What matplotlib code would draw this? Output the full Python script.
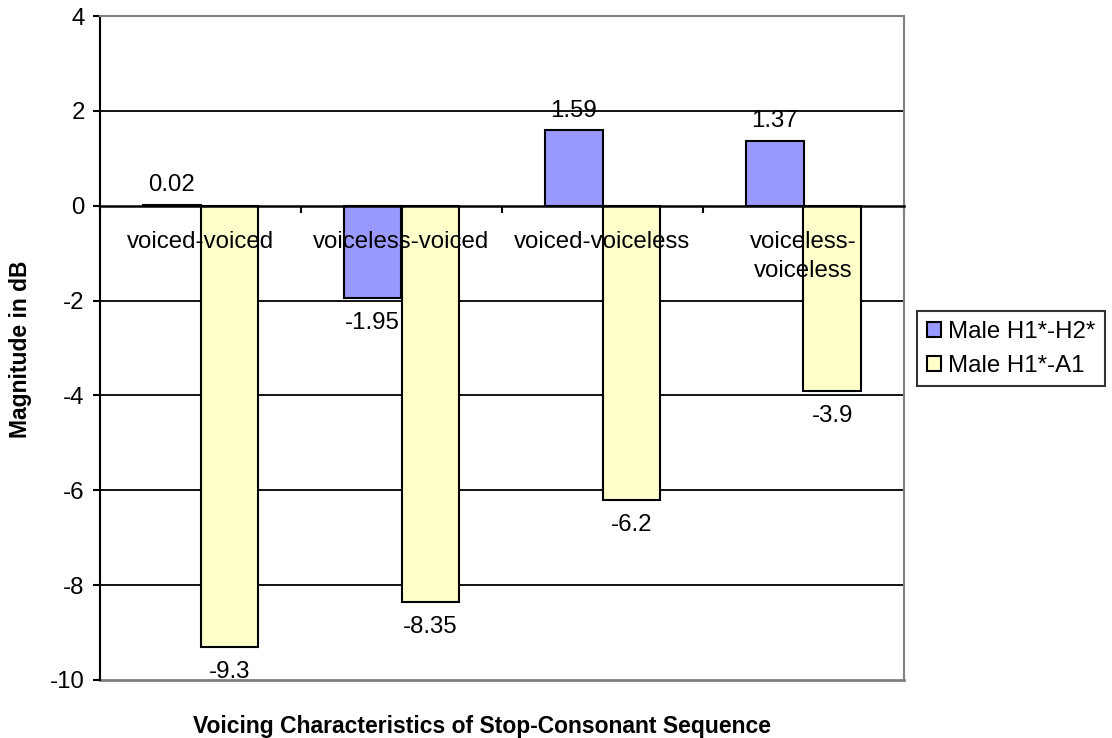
import matplotlib
matplotlib.use("Agg")
import matplotlib.pyplot as plt
import numpy as np

categories = ["voiced-voiced", "voiceless-voiced", "voiced-voiceless", "voiceless-\nvoiceless"]
series_names = ["Male H1*-H2*", "Male H1*-A1"]
h1h2 = [0.02, -1.95, 1.59, 1.37]
h1a1 = [-9.3, -8.35, -6.2, -3.9]
label_h1h2 = ["0.02", "-1.95", "1.59", "1.37"]
label_h1a1 = ["-9.3", "-8.35", "-6.2", "-3.9"]
yticks = [-10, -8, -6, -4, -2, 0, 2, 4]

plt.rcParams['font.family'] = ['Liberation Sans', 'DejaVu Sans']
FS = 17.3
FSB = 16.5

W, H = 1112, 738
fig = plt.figure(figsize=(W/100, H/100), dpi=100)
ax = fig.add_axes([100/W, 1-680/H, 804/W, 664/H])

x = np.arange(len(categories))
w = 1/3.5
b1 = ax.bar(x - w/2, h1h2, w, color="#9999FF", edgecolor="black", linewidth=1.5, label=series_names[0], zorder=3)
b2 = ax.bar(x + w/2, h1a1, w, color="#FFFFCC", edgecolor="black", linewidth=1.5, label=series_names[1], zorder=3)

ax.set_xlim(-0.5, len(categories) - 0.5)
ax.set_ylim(-10, 4)
ax.set_yticks(yticks)
ax.set_yticklabels([str(t) for t in yticks], fontsize=FS)
ax.tick_params(axis='y', direction='out', length=5, width=1.5, pad=6)

# gridlines
for t in yticks:
    if t not in (-10, 0, 4):
        ax.axhline(t, color='black', linewidth=1.3, zorder=1)

# spines
ax.spines['left'].set_color('black')
ax.spines['left'].set_linewidth(1.5)
ax.spines['bottom'].set_position(('data', 0))
ax.spines['bottom'].set_color('black')
ax.spines['bottom'].set_linewidth(1.8)
ax.spines['bottom'].set_zorder(4)
for s in ('top', 'right'):
    ax.spines[s].set_color('#808080')
    ax.spines[s].set_linewidth(1.5)
ax.axhline(-10, color='#808080', linewidth=2.0, zorder=2, clip_on=False)

ax.set_xticks(np.arange(len(categories) + 1) - 0.5)
ax.set_xticklabels([])
ax.tick_params(axis='x', direction='out', length=5, width=1.5)

# category labels near zero line
for i, c in enumerate(categories):
    ax.annotate(c, (i, 0), xytext=(0, -18), textcoords='offset points',
                ha='center', va='top', fontsize=FS, zorder=5, linespacing=1.45)

# data labels
def put(xs, vals, labels):
    for xi, v, lab in zip(xs, vals, labels):
        if v >= 0:
            ax.annotate(lab, (xi, v), xytext=(0, 6), textcoords='offset points',
                        ha='center', va='bottom', fontsize=FS, zorder=5)
        else:
            ax.annotate(lab, (xi, v), xytext=(0, -10), textcoords='offset points',
                        ha='center', va='top', fontsize=FS, zorder=5)

put(x - w/2, h1h2, label_h1h2)
put(x + w/2, h1a1, label_h1a1)

fig.text(21/W, 1-349/H, "Magnitude in dB", rotation=90, ha='center', va='center',
         fontsize=FSB, fontweight='bold')
fig.text(482/W, 1-733/H, "Voicing Characteristics of Stop-Consonant Sequence",
         ha='center', va='baseline', fontsize=FSB, fontweight='bold')

leg = fig.legend(handles=[b1, b2], labels=series_names, loc='upper left',
                 bbox_to_anchor=(917/W, 1-311/H), bbox_transform=fig.transFigure,
                 fontsize=FS, frameon=True, fancybox=False, handlelength=0.6,
                 handleheight=0.6, handletextpad=0.3, borderpad=0.4,
                 labelspacing=0.5, borderaxespad=0)
leg.get_frame().set_edgecolor('black')
leg.get_frame().set_linewidth(1.5)

fig.savefig("out.png", dpi=100)
